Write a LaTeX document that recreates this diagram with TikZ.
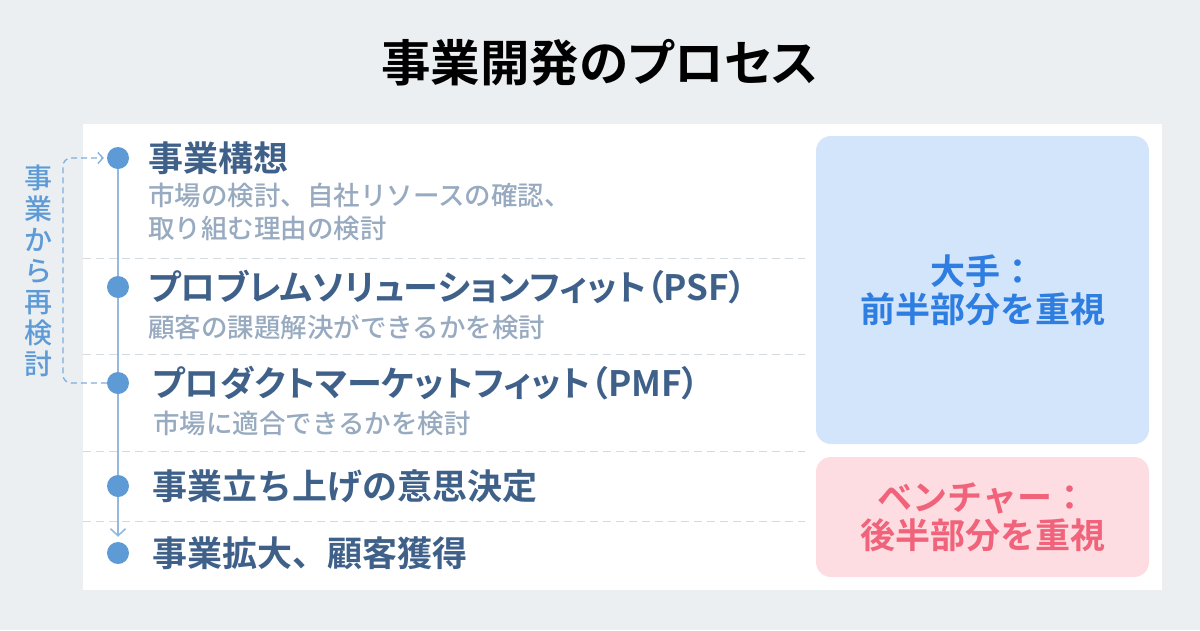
\documentclass[tikz,border=0pt]{standalone}
\usepackage{fontspec}
\setmainfont{Noto Sans CJK JP}[BoldFont={* Bold}]
\newfontfamily\medfont{Noto Sans CJK JP Medium}
\def\palt{\addfontfeature{RawFeature=+palt}}
\usetikzlibrary{arrows.meta,positioning}

\definecolor{bggray}{HTML}{EBEFF1}
\definecolor{itemblue}{HTML}{3F6189}
\definecolor{subgray}{HTML}{97AAC0}
\definecolor{dotblue}{HTML}{5E9BD6}
\definecolor{lineblue}{HTML}{94B9E0}
\definecolor{loopblue}{HTML}{7FAEE0}
\definecolor{sepgray}{HTML}{D3DAE0}
\definecolor{bigfill}{HTML}{D3E5FB}
\definecolor{bigtext}{HTML}{2E7DE0}
\definecolor{venfill}{HTML}{FDDDE1}
\definecolor{ventext}{HTML}{F0637A}

\def\itemfont{\bfseries\fontsize{35}{40}\selectfont}
\def\subfont{\medfont\fontsize{26.5}{33}\selectfont}

\begin{document}
\begin{tikzpicture}[x=1pt,y=-1pt,
  dot/.style={circle,fill=dotblue,inner sep=0,minimum size=22pt},
  itemtxt/.style={anchor=west,inner sep=0,text=itemblue,font=\itemfont},
  subtxt/.style={anchor=west,inner sep=0,text=subgray,font=\subfont,align=left},
  vline/.style={draw=lineblue,line width=1.6pt},
  loopline/.style={draw=loopblue,line width=1.3pt,dash pattern=on 6pt off 4pt,rounded corners=8pt},
  sepline/.style={draw=sepgray,line width=1pt,dash pattern=on 8pt off 5pt},
  sidebox/.style={rounded corners=15pt,minimum width=333pt,inner sep=0,align=center,font=\bfseries\fontsize{35}{38}\selectfont}]
\useasboundingbox (0,0) rectangle (1200,630);
\fill[bggray] (0,0) rectangle (1200,630);
\fill[white] (83,124) rectangle (1162,590);

% title
\node[font=\bfseries\fontsize{49.5}{54}\selectfont\palt] (title) at (600,63) {事業開発のプロセス};

% separators
\foreach \y in {258,354,451,521}
    \draw[sepline] (83,\y) -- (805,\y);

% steps
\foreach \i/\y in {1/158,2/287,3/383,4/486,5/553}
    \node[dot] (d\i) at (118,\y) {};

\draw[vline] (d1) -- (d2);
\draw[vline] (d2) -- (d3);
\draw[vline] (d3) -- (d4);
\draw[vline,-{Straight Barb[length=7pt,width=15pt]},shorten >=5pt] (d4) -- (d5);

\node[itemtxt,right=19pt of d1] (t1) {事業構想};
\node[subtxt] (s1) at (148,212) {市場の検討、自社リソースの確認、\\取り組む理由の検討};
\node[itemtxt,right=19pt of d2] (t2) {\palt プロブレムソリューションフィット（PSF）};
\node[subtxt] (s2) at (148,327) {顧客の課題解決ができるかを検討};
\node[itemtxt,right=23pt of d3] (t3) {\palt プロダクトマーケットフィット（PMF）};
\node[subtxt] (s3) at (153,423) {市場に適合できるかを検討};
\node[itemtxt,right=23pt of d4] (t4) {事業立ち上げの意思決定};
\node[itemtxt,right=23pt of d5] (t5) {事業拡大、顧客獲得};

% back to the start
\coordinate (bend) at (63,270);
\draw[loopline,-{Straight Barb[length=5pt,width=11pt]},shorten >=3pt] (d3.west) -| (bend) |- (d1.west);
\node[align=center,inner sep=0,text=dotblue,font=\medfont\fontsize{28}{31}\selectfont] (back) at (38,271)
    {事\\業\\か\\ら\\再\\検\\討};

% who weighs which half
\node[sidebox,fill=bigfill,text=bigtext,minimum height=308pt] (big) at (982.5,290) {大手：\\前半部分を重視};
\node[sidebox,fill=venfill,text=ventext,minimum height=120pt] (ven) at (982.5,517) {ベンチャー：\\後半部分を重視};
\end{tikzpicture}
\end{document}
